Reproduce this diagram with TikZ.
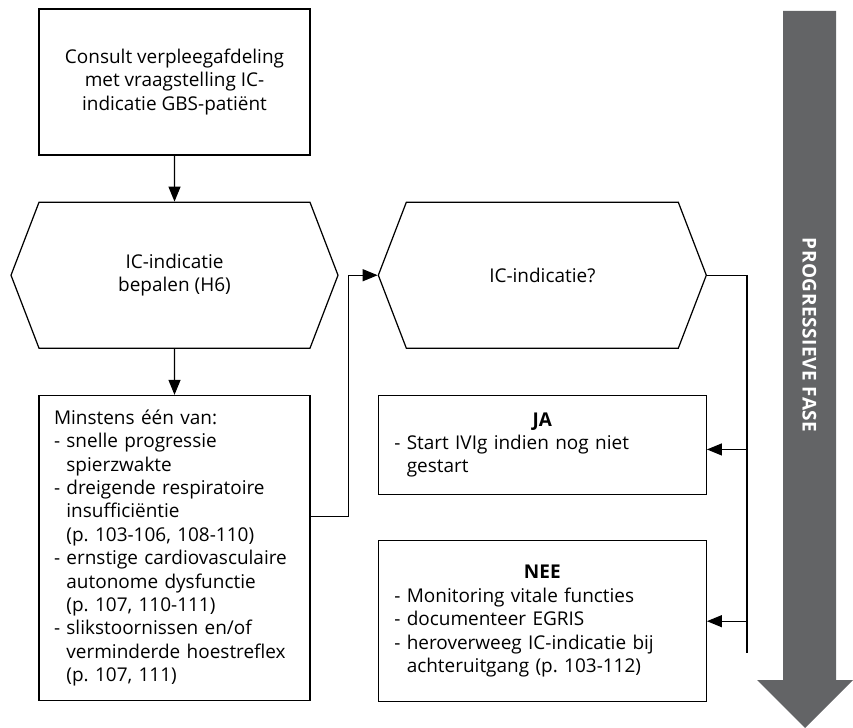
\documentclass[tikz,border=0pt]{standalone}
\usepackage{fontspec}
\setmainfont{Open Sans}
\usetikzlibrary{arrows.meta, positioning, shapes.symbols}
\definecolor{fasegrey}{RGB}{99,100,102}
\newcommand{\ind}{\hphantom{-\ }}
\frenchspacing

\begin{document}
\begin{tikzpicture}[>={Triangle[length=3mm,width=2.4mm]},line width=0.7pt,
  font=\fontsize{10.8}{13.3}\selectfont,
  process/.style={draw, rectangle, minimum width=5.42cm, inner sep=0pt},
  decision/.style={draw, signal, signal to=east and west, signal pointer angle=138,
    minimum width=6.54cm, minimum height=2.92cm, align=center, inner sep=0pt}]

\useasboundingbox (0,0) rectangle (17.06,-14.56);

% the big phase arrow at the right
  \fill[fasegrey] (15.66,-0.22) -- (16.72,-0.22) -- (16.72,-13.6) -- (17.06,-13.6)
    -- (16.1,-14.56) -- (15.14,-13.6) -- (15.66,-13.6) -- cycle;
  \node[rotate=-90, text=white, font=\fontsize{10.8}{12}\bfseries] (fase) at (16.19,-6.7)
{\addfontfeature{LetterSpace=3}PROGRESSIEVE FASE};

% define the steps
  \node[process, minimum height=2.92cm, align=center] (c0) at (3.49,-1.64)
{Consult verpleegafdeling\\met vraagstelling IC-\\indicatie GBS-patiënt};
  \node[decision] (h1) [below=0.92cm of c0]
{IC-indicatie\\bepalen (H6)};
  \node[process, minimum height=6.1cm, text width=4.82cm, align=left] (b1) [below=0.92cm of h1]
{Minstens één van:\\
- snelle progressie\\\ind spierzwakte\\
- dreigende respiratoire\\\ind insufficiëntie\\\ind (p. 103-106, 108-110)\\
- ernstige cardiovasculaire\\\ind autonome dysfunctie\\\ind (p. 107, 110-111)\\
- slikstoornissen en/of\\\ind verminderde hoestreflex\\\ind (p. 107, 111)};
  \node[decision, minimum width=6.56cm] (h2) [right=0.78cm of h1]
{IC-indicatie?};
  \node[process, minimum width=6.56cm, minimum height=1.98cm, text width=5.92cm, align=left] (ja) [below=0.92cm of h2]
{{\centering\textbf{JA}\par}
- Start IVIg indien nog niet\\\ind gestart};
  \node[process, minimum width=6.56cm, minimum height=3.22cm, text width=5.92cm, align=left] (nee) [below=0.9cm of ja]
{{\centering\textbf{NEE}\par}
- Monitoring vitale functies\\
- documenteer EGRIS\\
- heroverweeg IC-indicatie bij\\\ind achteruitgang (p. 103-112)};
  \coordinate (bus) at (14.94,-13.06);

% define the links
  \draw[->] (c0) -- (h1);
  \draw[->] (h1) -- (b1);
  \draw[->] ([yshift=0.63cm]b1.east) -- ++(0.76,0) |- (h2.west);
  \draw (h2.east) -| (bus);
  \draw[->] (bus |- ja.east) ++(0,-0.09) -- ([yshift=-0.09cm]ja.east);
  \draw[->] (bus |- nee.east) -- (nee.east);

\end{tikzpicture}
\end{document}
